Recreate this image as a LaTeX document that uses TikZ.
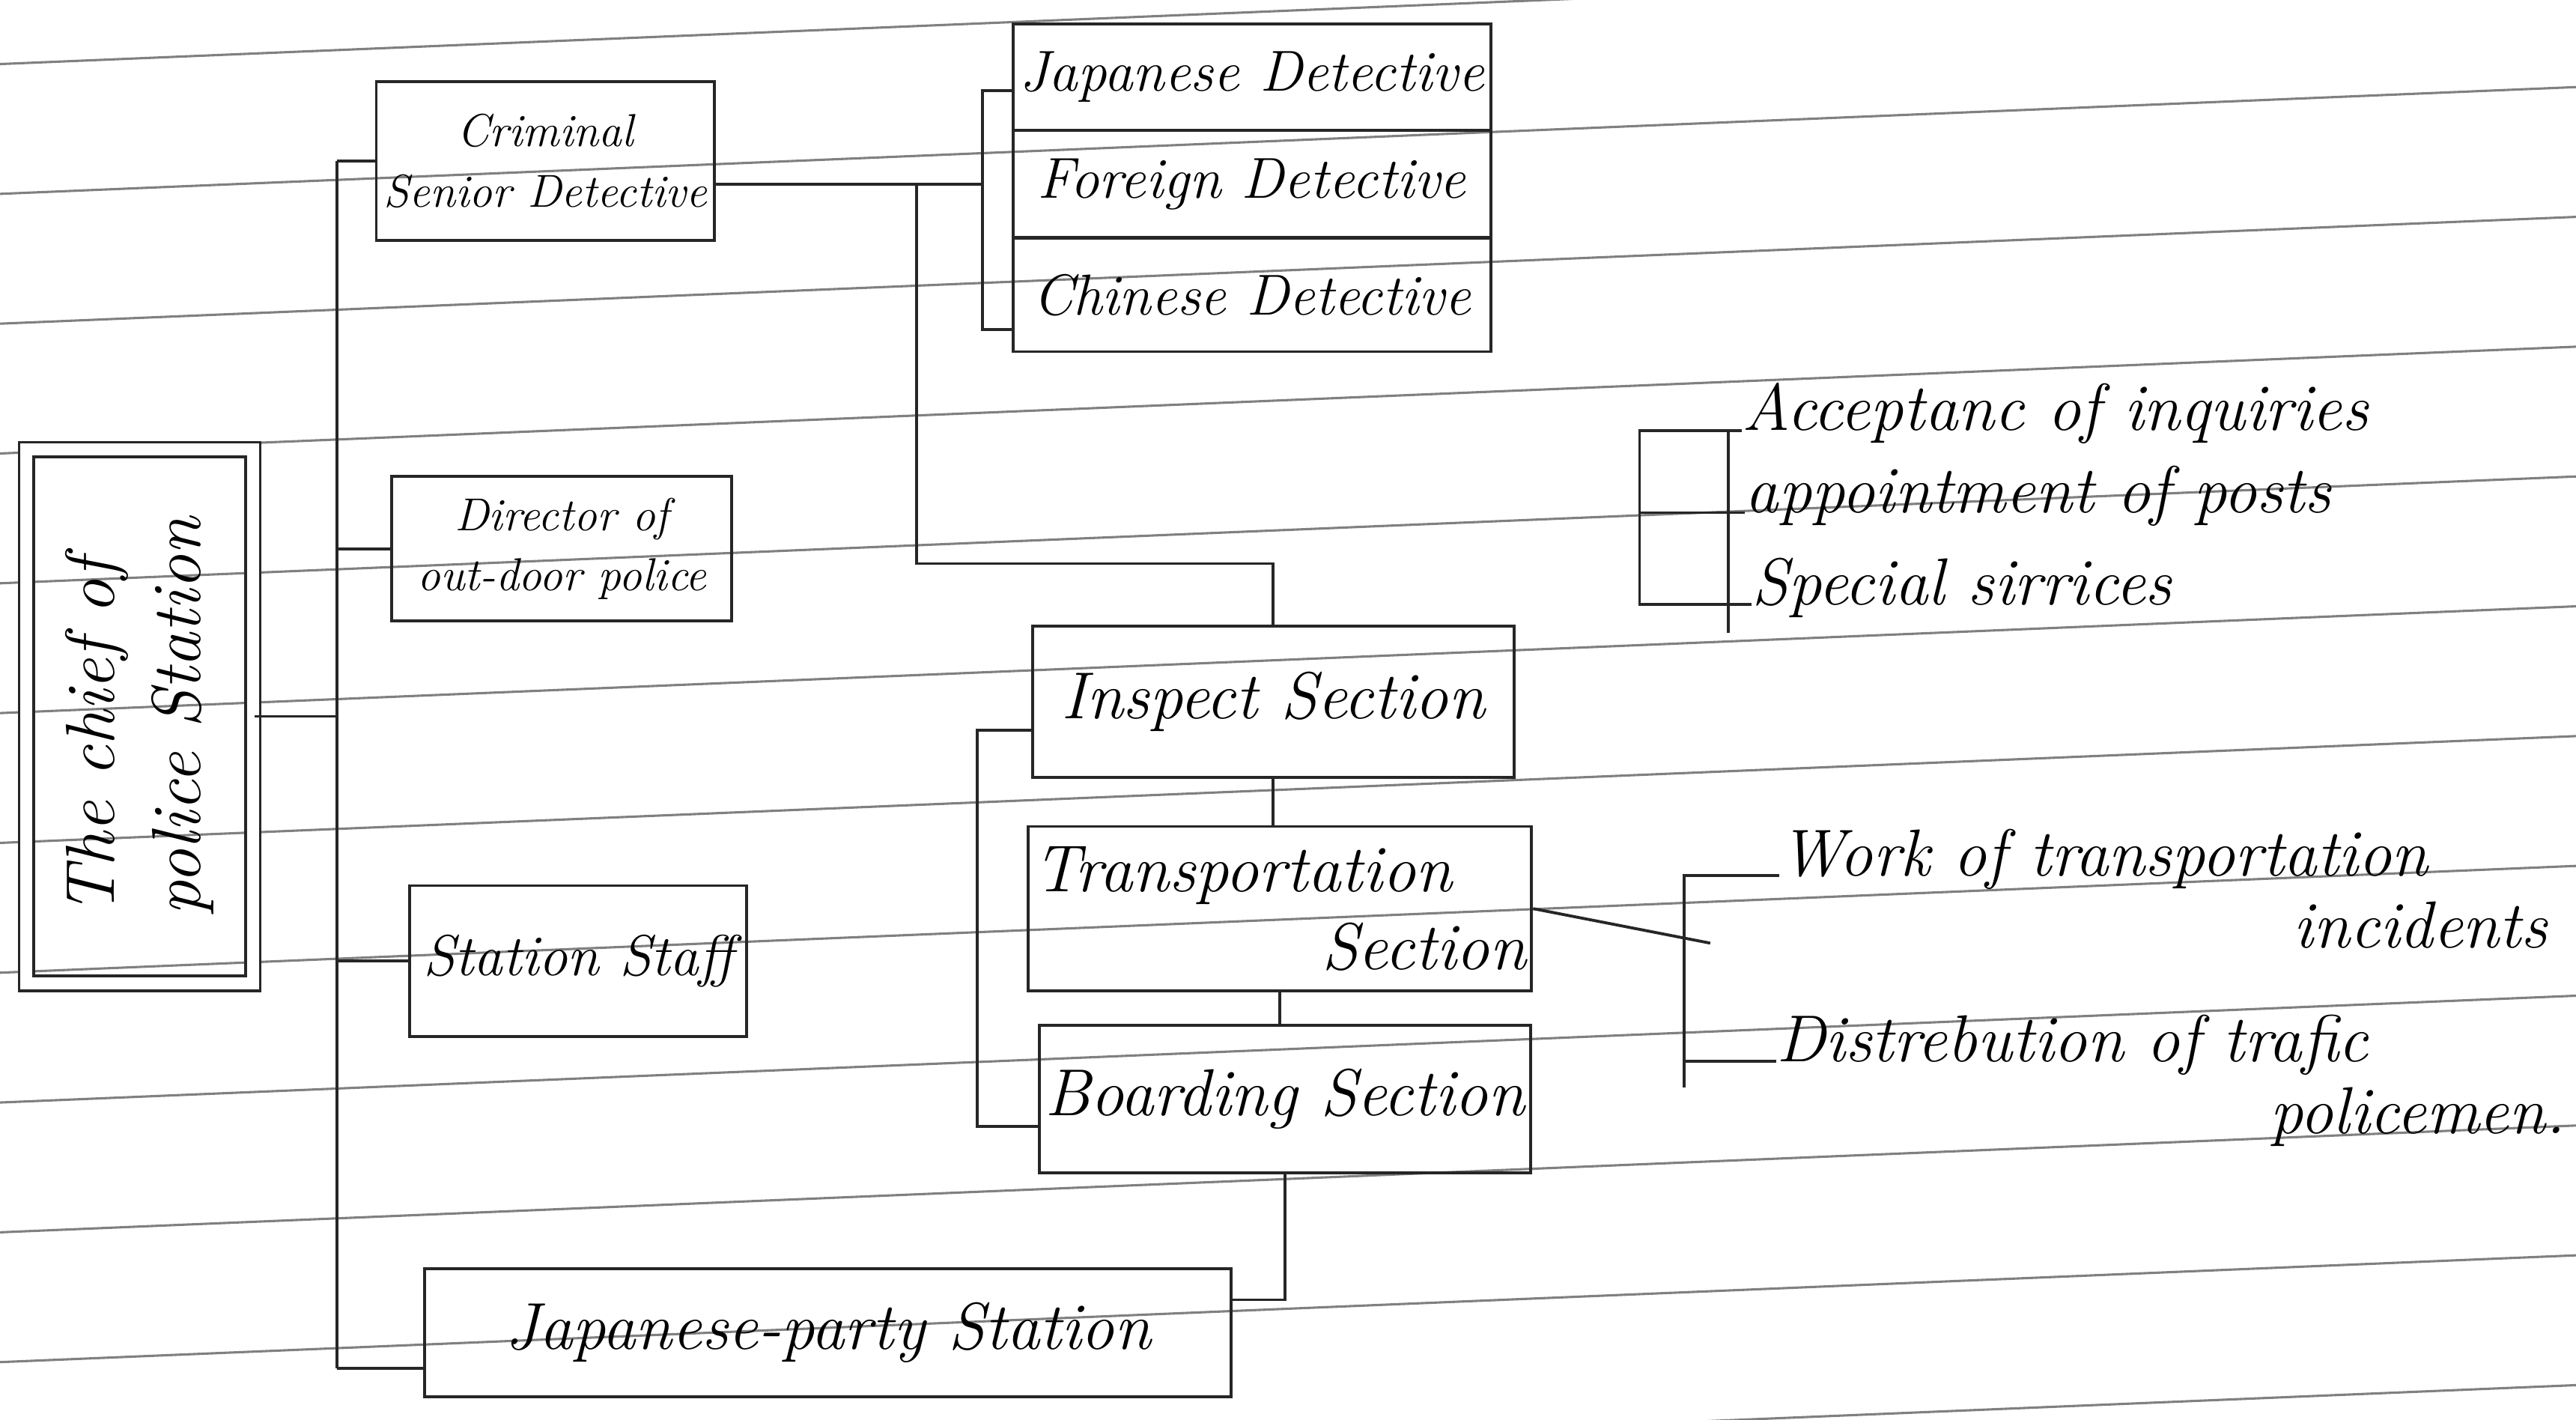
\documentclass[tikz,border=0pt]{standalone}
\usetikzlibrary{calc}

\tikzset{
  rule/.style={black!50, line width=0.8pt},
  link/.style={draw=black!85, line width=1pt},
  box/.style={draw=black!85, line width=1pt, inner sep=2pt, font=\fontsize{16}{21}\selectfont\itshape},
  bigbox/.style={box, font=\fontsize{23}{27}\selectfont\itshape},
  note/.style={inner sep=0pt, font=\fontsize{23}{28}\selectfont\itshape},
}

\begin{document}
\begin{tikzpicture}[x=0.02cm, y=-0.02cm]
\fill[white] (0,0) rectangle (1568,864);
\useasboundingbox (0,0) rectangle (1568,864);

% ruled paper
\begin{scope}
\clip (0,0) rectangle (1568,864);
\foreach \k in {0,...,11}
  \draw[rule] (0,39+79*\k) -- (1568,-26+79*\k);
\end{scope}

% chief
\node[box, double, double distance=0.14cm, rotate=90, minimum width=6.5cm, minimum height=2.76cm,
  align=left, font=\fontsize{24}{30}\selectfont\itshape] (chief) at (85,436) {The chief of\\police Station};

% left column
\node[box, minimum width=4.12cm, minimum height=1.94cm, align=center] (crim) at (332,98) {Criminal\\Senior Detective};
\node[box, minimum width=4.14cm, minimum height=1.76cm, align=center] (dir) at (342,334) {Director of\\out-door police};
\node[box, font=\fontsize{20}{25}\selectfont\itshape, minimum width=4.1cm, minimum height=1.84cm] (staff) at (352,585) {Station Staff};
\node[bigbox, minimum width=9.82cm, minimum height=1.56cm] (jps) at (504,811) {Japanese-party Station};

% detectives
\node[box, font=\fontsize{20}{24}\selectfont\itshape, minimum width=5.82cm, minimum height=1.3cm] (jdet) at (762,47) {Japanese Detective};
\node[box, font=\fontsize{20}{24}\selectfont\itshape, minimum width=5.82cm, minimum height=1.3cm] (fdet) at (762,112) {Foreign Detective};
\node[box, font=\fontsize{20}{24}\selectfont\itshape, minimum width=5.82cm, minimum height=1.38cm] (cdet) at (762,179.5) {Chinese Detective};

% sections
\node[bigbox, minimum width=5.86cm, minimum height=1.84cm] (insp) at (775,427) {Inspect Section};
\node[bigbox, minimum width=5.84cm, minimum height=2cm, align=right] (trans) at (779,553) {Transportation\hspace*{0.9cm}\\Section};
\node[bigbox, minimum width=5.82cm, minimum height=1.8cm] (board) at (782,669) {Boarding Section};

% duties
\node[note, anchor=base west] (acc) at (1060,262) {Acceptanc of inquiries};
\node[note, anchor=base west] (app) at (1062,312) {appointment of posts};
\node[note, anchor=base west] (spec) at (1066,368) {Special sirrices};
\node[note, anchor=base west] (work) at (1083,533) {Work of transportation};
\node[note, anchor=base east] (incid) at (1551,577) {incidents};
\node[note, anchor=base west] (dist) at (1081,646) {Distrebution of trafic};
\node[note, anchor=base east] (polic) at (1562,690) {policemen.};

% trunk
\coordinate (trunk top) at (205,98);
\coordinate (jps in) at ($(jps.west)!0.55!(jps.south west)$);
\draw[link] (chief.south) -- (chief.south -| trunk top);
\draw[link] (trunk top) -- (trunk top |- jps in);
\draw[link] (trunk top) -- (crim.west);
\draw[link] (dir.west -| trunk top) -- (dir.west);
\draw[link] (staff.west -| trunk top) -- (staff.west);
\draw[link] (jps in -| trunk top) -- (jps in);

% detectives bracket
\coordinate (det rail) at (598,112);
\coordinate (jdet in) at ($(jdet.west)!0.25!(jdet.south west)$);
\coordinate (cdet in) at ($(cdet.west)!0.6!(cdet.south west)$);
\draw[link] (crim.east |- det rail) -- (det rail);
\draw[link] (jdet in) -- (jdet in -| det rail) -- (cdet in -| det rail) -- (cdet in);

% sections
\coordinate (sec split) at (558,112);
\coordinate (sec bend) at (558,343);
\draw[link] (sec split) -- (sec bend) -| (insp.north);
\coordinate (sec rail) at (595,444);
\coordinate (insp in) at ($(insp.west)!0.37!(insp.south west)$);
\coordinate (board in) at ($(board.west)!0.36!(board.south west)$);
\draw[link] (insp in) -- (insp in -| sec rail) -- (board in -| sec rail) -- (board in);
\draw[link] (insp.south) -- (insp.south |- trans.north);
\draw[link] (trans.south) -- (trans.south |- board.north);
\coordinate (jps out) at ($(jps.north east)!0.25!(jps.south east)$);
\draw[link] (board.south) |- (jps out);

% duties brackets
\coordinate (acc rail) at (998,0);
\coordinate (acc foot) at (1052,385);
\draw[link] (acc.base west) -- (acc.base west -| acc rail) -- (spec.base west -| acc rail) -- (spec.base west);
\draw[link] (app.base west -| acc rail) -- (app.base west);
\draw[link] (acc.base west -| acc foot) -- (acc foot);
\coordinate (tr rail) at (1025,662);
\coordinate (tr diag) at (1041,574);
\draw[link] (work.base west) -- (work.base west -| tr rail) -- (tr rail);
\draw[link] (dist.base west -| tr rail) -- (dist.base west);
\draw[link] (trans.east) -- (tr diag);
\end{tikzpicture}
\end{document}
